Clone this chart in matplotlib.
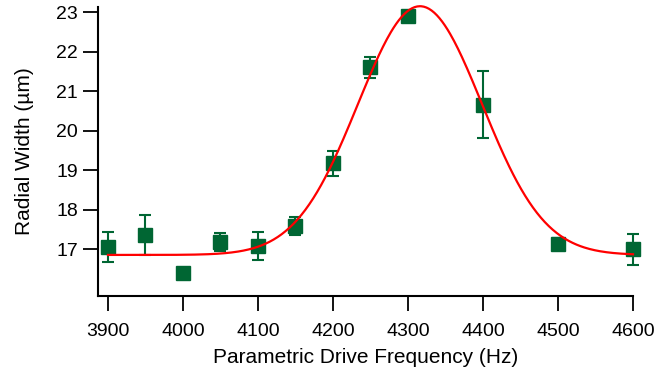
import numpy as np
import matplotlib
matplotlib.use("Agg")
import matplotlib.pyplot as plt

plt.rcParams['font.family'] = ['Liberation Sans', 'DejaVu Sans']

# Measured data
freq = [3900, 3950, 4000, 4050, 4100, 4150, 4200, 4250, 4300, 4400, 4500, 4600]
width = [17.06, 17.35, 16.40, 17.18, 17.08, 17.59, 19.17, 21.60, 22.91, 20.66, 17.12, 16.99]
err = [0.38, 0.50, 0.0, 0.23, 0.36, 0.23, 0.32, 0.27, 0.08, 0.85, 0.15, 0.39]

# Gaussian fit parameters (y0 + A*exp(-((x-x0)/w)^2))
fit_y0 = 16.85
fit_A = 6.30
fit_x0 = 4316.0
fit_w = 117.0
fit_range = (3900, 4600)

xticks = [3900, 4000, 4100, 4200, 4300, 4400, 4500, 4600]
yticks = [17, 18, 19, 20, 21, 22, 23]

green = '#006633'
red = '#ff0000'

fig = plt.figure(figsize=(6.58, 3.76), dpi=100)
ax = fig.add_axes([98/658, (376-296)/376, (633-98)/658, (296-7)/376])

xf = np.linspace(fit_range[0], fit_range[1], 400)
yf = fit_y0 + fit_A*np.exp(-((xf - fit_x0)/fit_w)**2)
ax.plot(xf, yf, color=red, lw=1.6, zorder=3, clip_on=False)

eb = ax.errorbar(freq, width, yerr=err, fmt='s', color=green, ms=9.5,
                 ecolor=green, elinewidth=1.5, capsize=4.5, capthick=1.5, zorder=2)
eb.lines[0].set_clip_on(False)
for a in tuple(eb.lines[1]) + tuple(eb.lines[2]):
    a.set_clip_on(False)

ax.set_xlim(3886.7, 4600)
ax.set_ylim(15.81, 23.13)
ax.set_xticks(xticks)
ax.set_yticks(yticks)
for s in ['top', 'right']:
    ax.spines[s].set_visible(False)
for s in ['left', 'bottom']:
    ax.spines[s].set_linewidth(1.5)
ax.tick_params(axis='both', direction='out', length=10.5, width=1.3,
               labelsize=14)
ax.tick_params(axis='x', pad=9)
ax.tick_params(axis='y', pad=4)
ax.set_xlabel('Parametric Drive Frequency (Hz)', fontsize=15, labelpad=5.5)
ax.set_ylabel('Radial Width (µm)', fontsize=15, labelpad=16)

fig.savefig('out.png', dpi=100)
